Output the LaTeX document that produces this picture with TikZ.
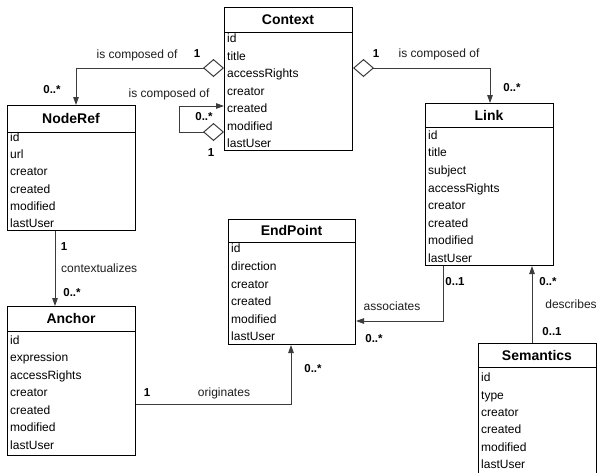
\documentclass[tikz,border=0pt]{standalone}
\usepackage{fontspec}
\setmainfont{Liberation Sans}
\usetikzlibrary{arrows.meta,calc}
\definecolor{conn}{RGB}{60,60,60}
\definecolor{lbl}{RGB}{30,30,30}
\tikzset{
  boxnode/.style={draw=black, line width=1pt, inner sep=0pt, fill=white},
  boxline/.style={draw=black, line width=1pt},
  titletext/.style={font=\fontsize{14}{16}\selectfont\bfseries, anchor=base, inner sep=0pt},
  attr/.style={font=\fontsize{12}{14}\selectfont, anchor=base west, inner sep=0pt, text=black},
  lab/.style={font=\fontsize{12}{14}\selectfont, inner sep=0pt, text=lbl},
  mult/.style={font=\fontsize{11.5}{13}\selectfont\bfseries, inner sep=0pt},
  assoc/.style={draw=conn, line width=1pt, -{Triangle[length=8pt,width=5.5pt]}},
  aggr/.style={draw=conn, line width=1pt, {Diamond[open,length=21pt,width=18pt]}-{Triangle[length=8pt,width=5.5pt]}},
}
\newcommand{\umlbox}[7]{%
  \node[boxnode, minimum width={#3-#2}, minimum height={#6-#4}, anchor=north west] (#1) at (#2,#4) {};
  \draw[boxline] (#2,#5) -- (#3,#5);
  \node[titletext] (#1-title) at ({(#2+#3)/2},{(#4+#5)/2+5}) {#7};
}
\newcommand{\umlattrs}[5]{%
  \foreach \a [count=\i from 0] in {#5}
    \node[attr] (#1-a\i) at (#2+3,#3+\i*#4+4.3) {\a};
}
\begin{document}
\begin{tikzpicture}[x=1pt,y=-1pt]
\useasboundingbox (0,0) rectangle (597,472);
\clip (0,0) rectangle (597,472);
\fill[white] (0,0) rectangle (597,472);

% classes
\umlbox{ctx}{224}{352}{7}{32}{150}{Context}
\umlattrs{ctx}{224}{38.5}{17.5}{id,title,accessRights,creator,created,modified,lastUser}

\umlbox{nref}{7}{135}{105}{132}{230}{NodeRef}
\umlattrs{nref}{7}{137}{17.3}{id,url,creator,created,modified,lastUser}

\umlbox{link}{425}{553}{103}{127}{265}{Link}
\umlattrs{link}{425}{135}{17.6}{id,title,subject,accessRights,creator,created,modified,lastUser}

\umlbox{endp}{228}{355}{219}{242}{344}{EndPoint}
\umlattrs{endp}{228}{248.5}{17.6}{id,direction,creator,created,modified,lastUser}

\umlbox{anc}{7}{135}{306}{331}{455}{Anchor}
\umlattrs{anc}{7}{340}{17.5}{id,expression,accessRights,creator,created,modified,lastUser}

\umlbox{sem}{478}{596}{343}{367}{482}{Semantics}
\umlattrs{sem}{478}{377.5}{17.3}{id,type,creator,created,modified,lastUser}

% bend points
\coordinate (bA) at (76,68);
\coordinate (bB1) at (179,132);
\coordinate (bB2) at (179,106);
\coordinate (bC) at (490,68);
\coordinate (bD) at (55,0);
\coordinate (bE) at (443,321);
\coordinate (bF) at (532,0);
\coordinate (bG) at (291,404);

% connectors
\draw[aggr] (bA -| ctx.west) -- (bA) -- (bA |- nref.north);
\draw[aggr] (bB1 -| ctx.west) -- (bB1) -- (bB2) -- (bB2 -| ctx.west);
\draw[aggr] (bC -| ctx.east) -- (bC) -- (bC |- link.north);
\draw[assoc] (bD |- nref.south) -- (bD |- anc.north);
\draw[assoc] (bE |- link.south) -- (bE) -- (bE -| endp.east);
\draw[assoc] (bF |- sem.north) -- (bF |- link.south);
\draw[assoc] (bG -| anc.east) -- (bG) -- (bG |- endp.south);

% labels
\node[lab] (lA) at (137,55) {is composed of};
\node[mult] (mA1) at (197,54) {1};
\node[mult] (mA2) at (52,90) {0..*};

\node[lab] (lB) at (169,94) {is composed of};
\node[mult] (mB1) at (204,117) {0..*};
\node[mult] (mB2) at (211,153) {1};

\node[mult] (mC1) at (376,54) {1};
\node[lab] (lC) at (439,54) {is composed of};
\node[mult] (mC2) at (512,88) {0..*};

\node[mult] (mD1) at (64,247) {1};
\node[lab, anchor=west] (lD) at (61,268) {contextualizes};
\node[mult] (mD2) at (72,293) {0..*};

\node[mult] (mE1) at (455,282) {0..1};
\node[lab] (lE) at (392,306) {associates};
\node[mult] (mE2) at (374,339) {0..*};

\node[mult] (mF1) at (548,282) {0..*};
\node[lab] (lF) at (571,304) {describes};
\node[mult] (mF2) at (552,332) {0..1};

\node[mult] (mG1) at (147,393) {1};
\node[lab] (lG) at (224,393) {originates};
\node[mult] (mG2) at (313,369) {0..*};
\end{tikzpicture}
\end{document}
